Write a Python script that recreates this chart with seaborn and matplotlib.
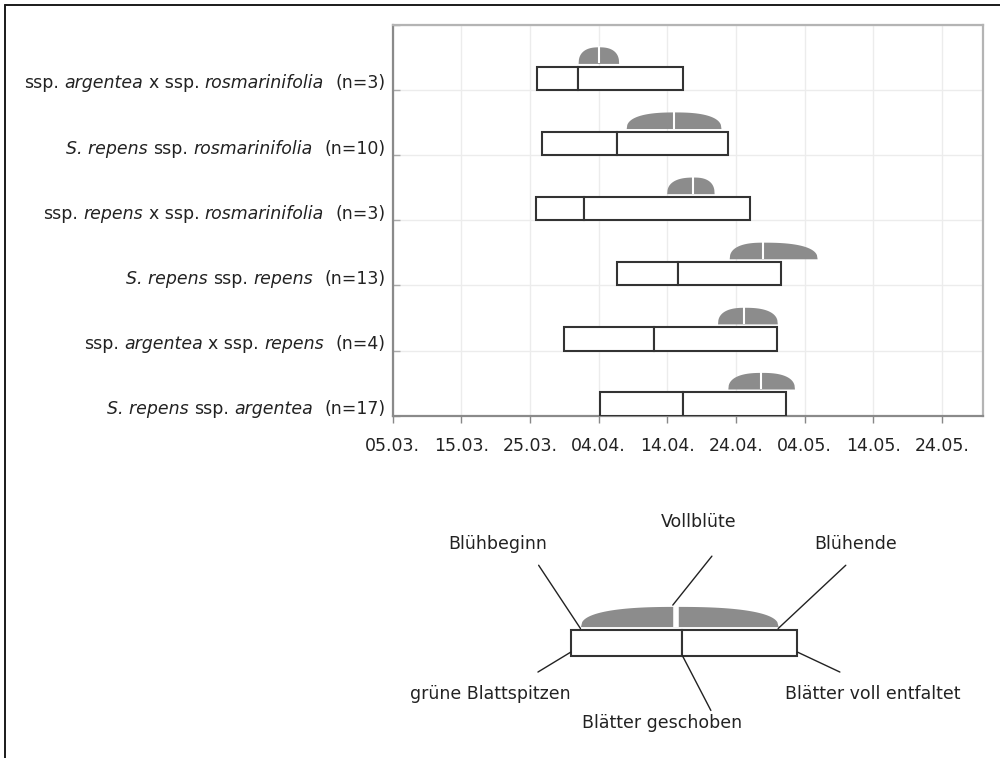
import numpy as np
import matplotlib
matplotlib.use("Agg")
import matplotlib.pyplot as plt
import matplotlib.transforms as mtransforms
from matplotlib.lines import Line2D
import seaborn as sns

# ---------------------------------------------------------------------------
# Phenology of Salix repens taxa, top row first. *...* marks italic parts.
taxa = [
    "ssp. *argentea* x ssp. *rosmarinifolia*",
    "*S. repens* ssp. *rosmarinifolia*",
    "ssp. *repens* x ssp. *rosmarinifolia*",
    "*S. repens* ssp. *repens*",
    "ssp. *argentea* x ssp. *repens*",
    "*S. repens* ssp. *argentea*",
]
n_plants = [3, 10, 3, 13, 4, 17]

# Leaf development (days after 05.03.)
green_tips = [21.0, 21.7, 20.9, 32.7, 25.0, 30.2]
leaves_pushed = [27.0, 32.7, 27.9, 41.5, 38.0, 42.3]
leaves_unfolded = [42.2, 48.8, 52.1, 56.6, 56.0, 57.3]

# Flowering (days after 05.03.)
bloom_start = [27.0, 34.0, 39.9, 49.0, 47.3, 48.8]
full_bloom = [30.0, 41.0, 43.8, 53.9, 51.2, 53.7]
bloom_end = [32.9, 47.8, 46.8, 61.8, 56.0, 58.5]

tick_days = [0, 10, 20, 30, 40, 50, 60, 70, 80]
tick_labels = ["05.03.", "15.03.", "25.03.", "04.04.", "14.04.",
               "24.04.", "04.05.", "14.05.", "24.05."]

# Explanatory key: one example row and its stage names
key_leaf = [24.9, 41.15, 57.9]      # green tips, leaves pushed, unfolded
key_flower = [26.3, 40.2, 55.1]     # start, full bloom, end
key_texts = ["Blühbeginn", "Vollblüte", "Blühende",
             "grüne Blattspitzen", "Blätter geschoben", "Blätter voll entfaltet"]
key_text_pos = [(14.2, 3.29), (43.5, 3.62), (66.4, 3.29),
                (13.1, 0.99), (38.2, 0.53), (68.9, 0.99)]
key_leader_ends = [(20.2, 2.96), (45.45, 3.10), (64.96, 2.96),
                   (20.1, 1.32), (45.3, 0.73), (64.1, 1.32)]

# ---------------------------------------------------------------------------
sns.set_theme(style="white")
plt.rcParams["font.family"] = ["DejaVu Sans"]
FS = 12.5
TXT = "#222222"
BOX_EDGE = "#333333"
FLOWER = "#8c8c8c"
GRID = "#ececec"

fig = plt.figure(figsize=(10, 7.58), dpi=100)
W, H = 1000, 758


def dome(u, p=2.5):
    """Superelliptic profile: 1 at u=0, 0 at u=1."""
    return np.clip(1 - np.abs(u) ** p, 0, 1) ** (1 / p)


def draw_phase(ax, base, tips, pushed, unfolded, b, m, e,
               box_h=0.36, gap=0.05, fl_h=0.255, split_w=1.5):
    """Leaf box (two segments) plus the flowering dome above it."""
    for left, right in ((tips, pushed), (pushed, unfolded)):
        ax.barh(base, right - left, left=left, height=box_h, align="edge",
                facecolor="white", edgecolor=BOX_EDGE, linewidth=1.5, zorder=3)
    y0 = base + box_h + gap
    xl = np.linspace(b, m, 80)
    xr = np.linspace(m, e, 80)
    x = np.concatenate([xl, xr])
    h = fl_h * np.concatenate([dome((m - xl) / (m - b)), dome((xr - m) / (e - m))])
    ax.fill_between(x, y0, y0 + h, color=FLOWER, linewidth=0, zorder=3)
    ax.plot([m, m], [y0, y0 + fl_h + 0.01], color="white", lw=split_w,
            solid_capstyle="butt", zorder=4)
    return y0, y0 + fl_h


# ---------------------------------------------------------------------------
# Main chart
ax = fig.add_axes([392.7 / W, (H - 415.7) / H, 590.6 / W, 390.7 / H])
ax.set_xlim(0, 86)
ax.set_ylim(0, 6)
ax.set_xticks(tick_days)
ax.set_xticklabels(tick_labels, fontsize=FS, color=TXT)
ax.set_yticks(range(7))
ax.set_yticklabels([])
ax.grid(True, color=GRID, linewidth=1.0, zorder=0)
ax.set_axisbelow(True)
ax.tick_params(axis="x", direction="out", length=5, width=1, color="#888888",
               pad=10.5, bottom=True)
ax.tick_params(axis="y", direction="in", length=5, width=1, color="#aaaaaa",
               left=True)
for side, col in (("left", "#8a8a8a"), ("bottom", "#8a8a8a"),
                  ("top", "#b4b4b4"), ("right", "#b4b4b4")):
    ax.spines[side].set_visible(True)
    ax.spines[side].set_color(col)
    ax.spines[side].set_linewidth(1.6)

n_rows = len(taxa)
for i in range(n_rows):
    base = n_rows - 1 - i
    draw_phase(ax, base, green_tips[i], leaves_pushed[i], leaves_unfolded[i],
               bloom_start[i], full_bloom[i], bloom_end[i])

# Row labels with mixed italic / upright parts, right-aligned to the axis
fig.canvas.draw()
renderer = fig.canvas.get_renderer()


def measure(s, style):
    t = fig.text(0, 0, s, fontsize=FS, style=style)
    w = t.get_window_extent(renderer).width
    t.remove()
    return w


space_px = measure("n n", "normal") - measure("nn", "normal")

for i, (name, n) in enumerate(zip(taxa, n_plants)):
    base = n_rows - 1 - i
    parts = name.split("*") + [f"  (n={n})"]
    styles = ["italic" if k % 2 else "normal" for k in range(len(parts) - 1)]
    styles.append("normal")
    cursor = -7.5
    for part, style in zip(reversed(parts), reversed(styles)):
        if not part:
            continue
        core = part.strip()
        cursor -= (len(part) - len(part.rstrip())) * space_px
        if core:
            tr = mtransforms.offset_copy(ax.get_yaxis_transform(), fig=fig,
                                         x=cursor, y=-5.5, units="dots")
            ax.text(0, base + 0.11, core, transform=tr, ha="right",
                    va="baseline", fontsize=FS, style=style, color=TXT,
                    clip_on=False)
            cursor -= measure(core, style)
        cursor -= (len(part) - len(part.lstrip())) * space_px

# ---------------------------------------------------------------------------
# Key explaining the symbols
kax = fig.add_axes([400 / W, 0, 600 / W, 258 / H])
kax.set_xlim(0, 600 / 6.8625)
kax.set_ylim(0, 258 / 65.12)
kax.axis("off")
y_fl0, y_fl1 = draw_phase(kax, 1.572, *key_leaf, *key_flower,
                          box_h=0.386, gap=0.06, fl_h=0.31, split_w=4.0)
box_bot, box_top = 1.572, 1.572 + 0.386
corner_y = (box_top + y_fl0) / 2
leader_starts = [
    (key_flower[0], corner_y),
    (key_flower[1] - 0.45, y_fl1 + 0.02),
    (key_flower[2], corner_y),
    (key_leaf[0], box_bot + 0.055),
    (key_leaf[1], box_bot),
    (key_leaf[2], box_bot + 0.055),
]
for (x0, y0), (x1, y1) in zip(leader_starts, key_leader_ends):
    kax.plot([x0, x1], [y0, y1], color=TXT, lw=1.0, zorder=5)
for label, (x, y) in zip(key_texts, key_text_pos):
    kax.text(x, y, label, ha="center", va="center", fontsize=FS, color=TXT)

# Outer frame lines of the figure
fig.add_artist(Line2D([5 / W, 1], [1 - 5 / H, 1 - 5 / H], transform=fig.transFigure,
                      color="#1a1a1a", lw=1.4))
fig.add_artist(Line2D([5 / W, 5 / W], [0, 1 - 5 / H], transform=fig.transFigure,
                      color="#1a1a1a", lw=1.4))

fig.savefig("out.png", dpi=100, facecolor="white")
